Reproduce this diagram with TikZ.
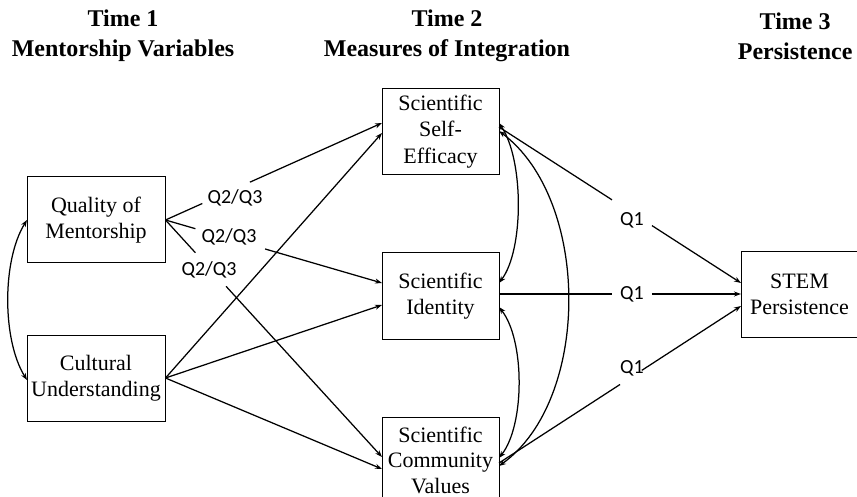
\documentclass[tikz,border=0pt]{standalone}
\usepackage{fontspec}
\setmainfont{Liberation Serif}
\newfontfamily\qfont{Carlito}
\usetikzlibrary{arrows.meta,calc}
\tikzset{
  box/.style={draw, line width=1pt, minimum width=117pt, minimum height=86pt, align=center, inner sep=0pt,
    font=\fontsize{22}{26.5}\selectfont},
  wbox/.style={box, minimum width=138pt},
  hdr/.style={align=center, font=\fontsize{24}{30}\selectfont\bfseries},
  lbl/.style={font=\qfont\fontsize{20}{24}\selectfont, inner sep=0pt},
  conn/.style={line width=1.25pt},
  arr/.style={conn, -{Stealth[length=7pt,width=5pt]}},
  darr/.style={conn, {Stealth[length=7pt,width=5pt]}-{Stealth[length=7pt,width=5pt]}}
}
\begin{document}
\begin{tikzpicture}[x=1pt,y=-1pt]
\useasboundingbox (0,0) rectangle (857,497);
% headers
\node[hdr] (h1) at (123,36) {Time 1\\Mentorship Variables};
\node[hdr] (h2) at (447,36) {Time 2\\Measures of Integration};
\node[hdr, anchor=east] (h3) at (856,36) {Time 3\\Persistence};
% boxes
\node[wbox] (q) at (96,220) {Quality of\\Mentorship};
\node[wbox] (c) at (96,378) {Cultural\\Understanding};
\node[box] (se) at (440.5,131.5) {Scientific\\Self-\\Efficacy};
\node[box] (id) at (440.5,296) {Scientific\\Identity};
\node[box, font=\fontsize{22}{25.5}\selectfont] (cv) at (440.5,460) {Scientific\\Community\\Values};
\node[box] (st) at (799.5,294.5) {STEM\\Persistence};
% anchor points on the borders
\coordinate (qe) at (q.east);
\coordinate (ce) at (c.east);
\coordinate (qw) at (27,220);
\coordinate (cw) at (27,380);
\coordinate (sew1) at (382,123);
\coordinate (sew2) at (382,133);
\coordinate (idw1) at (382,283);
\coordinate (idw2) at (382,305);
\coordinate (cvw1) at (382,457);
\coordinate (cvw2) at (382,469);
\coordinate (see1) at (499,123);
\coordinate (see0) at (499,127);
\coordinate (see2) at (499,131);
\coordinate (ide1) at (499,283);
\coordinate (ide0) at (499,294);
\coordinate (ide2) at (499,307);
\coordinate (cve1) at (499,458);
\coordinate (cve0) at (499,463);
\coordinate (cve2) at (499,466);
\coordinate (stw1) at (741,283);
\coordinate (stw0) at (741,294);
\coordinate (stw2) at (741,306);
% labels
\node[lbl] (l1) at (235,198) {Q2/Q3};
\node[lbl] (l2) at (229,237) {Q2/Q3};
\node[lbl] (l3) at (209,270) {Q2/Q3};
\node[lbl] (l4) at (632,220) {Q1};
\node[lbl] (l5) at (632,294) {Q1};
\node[lbl] (l6) at (632,368) {Q1};
% Quality paths (broken by labels)
\draw[conn] (qe) -- ($(qe)!0.17!(sew1)$);
\draw[arr] ($(qe)!0.39!(sew1)$) -- (sew1);
\draw[conn] (qe) -- ($(qe)!0.138!(idw1)$);
\draw[arr] ($(qe)!0.46!(idw1)$) -- (idw1);
\draw[conn] (qe) -- ($(qe)!0.138!(cvw1)$);
\draw[arr] ($(qe)!0.28!(cvw1)$) -- (cvw1);
% Cultural paths
\draw[arr] (ce) -- (sew2);
\draw[arr] (ce) -- (idw2);
\draw[arr] (ce) -- (cvw2);
% paths to STEM
\draw[conn] (see0) -- ($(see0)!0.467!(stw1)$);
\draw[arr] ($(see0)!0.632!(stw1)$) -- (stw1);
\draw[conn] (ide0) -- ($(ide0)!0.467!(stw0)$);
\draw[arr] ($(ide0)!0.632!(stw0)$) -- (stw0);
\draw[conn] (cve0) -- ($(cve0)!0.50!(stw2)$);
\draw[arr] ($(cve0)!0.59!(stw2)$) -- (stw2);
% correlations
\draw[darr] (qw) .. controls (2,260) and (2,340) .. (cw);
\draw[darr] (see1) .. controls (524,160) and (524,250) .. (ide1);
\draw[darr] (ide2) .. controls (525,340) and (525,425) .. (cve1);
\draw[darr] (see2) .. controls (591,200) and (591,400) .. (cve2);
\end{tikzpicture}
\end{document}
